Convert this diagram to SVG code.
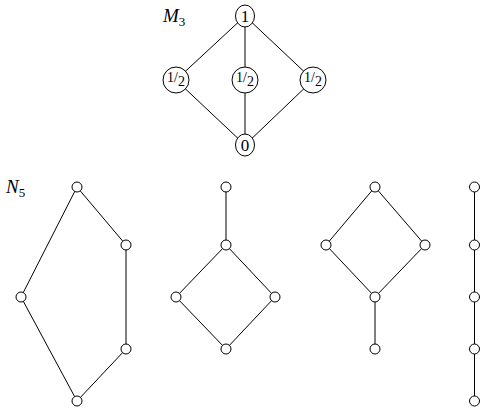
<svg xmlns="http://www.w3.org/2000/svg" width="486" height="413" viewBox="0 0 486 413">
<style>
.e{stroke:#000;stroke-width:1;fill:none}
.n{fill:#fff;stroke:#000;stroke-width:1}
.t{font-family:"Liberation Serif",serif;font-size:17px;fill:#000}
.f{font-family:"Liberation Serif",serif;font-size:14px;fill:#000}
.l{font-family:"Liberation Serif",serif;font-size:19px;font-style:italic;fill:#000}
.s{font-style:normal;font-size:13px}
</style>
<rect width="486" height="413" fill="#fff"/>
<text class="l" x="163" y="22">M<tspan class="s" dy="4">3</tspan></text>
<text class="l" x="6" y="193">N<tspan class="s" dy="4">5</tspan></text>
<g id="connectors">
<path class="e" d="M245,16L176,80L245,145L313,80L245,16L245,145"/>
<path class="e" d="M77,187L126,245L126,349L77,401L21,297Z"/>
<path class="e" d="M226,187L226,245L176,297L226,349L275,297L226,245"/>
<path class="e" d="M375,187L326,245L375,297L425,245Z M375,297L375,349"/>
<path class="e" d="M474.5,187L474.5,401"/>
</g>
<g id="m3_top"><ellipse class="n" cx="245" cy="16" rx="9.5" ry="11"/><text class="t" x="245" y="22" text-anchor="middle">1</text></g>
<g id="m3_a"><circle class="n" cx="176" cy="80" r="13"/><text class="f" x="176" y="84" text-anchor="middle"><tspan dy="-2">1</tspan>/<tspan dy="4">2</tspan></text></g>
<g id="m3_b"><circle class="n" cx="245" cy="80" r="13"/><text class="f" x="245" y="84" text-anchor="middle"><tspan dy="-2">1</tspan>/<tspan dy="4">2</tspan></text></g>
<g id="m3_c"><circle class="n" cx="313" cy="80" r="13"/><text class="f" x="313" y="84" text-anchor="middle"><tspan dy="-2">1</tspan>/<tspan dy="4">2</tspan></text></g>
<g id="m3_bot"><ellipse class="n" cx="245" cy="145" rx="9.5" ry="11"/><text class="t" x="245" y="151" text-anchor="middle">0</text></g>
<g id="n5_1"><circle class="n" cx="77" cy="187" r="5"/></g>
<g id="n5_2"><circle class="n" cx="126" cy="245" r="5"/></g>
<g id="n5_3"><circle class="n" cx="21" cy="297" r="5"/></g>
<g id="n5_4"><circle class="n" cx="126" cy="349" r="5"/></g>
<g id="n5_5"><circle class="n" cx="77" cy="401" r="5"/></g>
<g id="b_1"><circle class="n" cx="226" cy="187" r="5"/></g>
<g id="b_2"><circle class="n" cx="226" cy="245" r="5"/></g>
<g id="b_3"><circle class="n" cx="176" cy="297" r="5"/></g>
<g id="b_4"><circle class="n" cx="275" cy="297" r="5"/></g>
<g id="b_5"><circle class="n" cx="226" cy="349" r="5"/></g>
<g id="c_1"><circle class="n" cx="375" cy="187" r="5"/></g>
<g id="c_2"><circle class="n" cx="326" cy="245" r="5"/></g>
<g id="c_3"><circle class="n" cx="425" cy="245" r="5"/></g>
<g id="c_4"><circle class="n" cx="375" cy="297" r="5"/></g>
<g id="c_5"><circle class="n" cx="375" cy="349" r="5"/></g>
<g id="d_1"><circle class="n" cx="474.5" cy="187" r="5"/></g>
<g id="d_2"><circle class="n" cx="474.5" cy="245" r="5"/></g>
<g id="d_3"><circle class="n" cx="474.5" cy="297" r="5"/></g>
<g id="d_4"><circle class="n" cx="474.5" cy="349" r="5"/></g>
<g id="d_5"><circle class="n" cx="474.5" cy="401" r="5"/></g>
</svg>
